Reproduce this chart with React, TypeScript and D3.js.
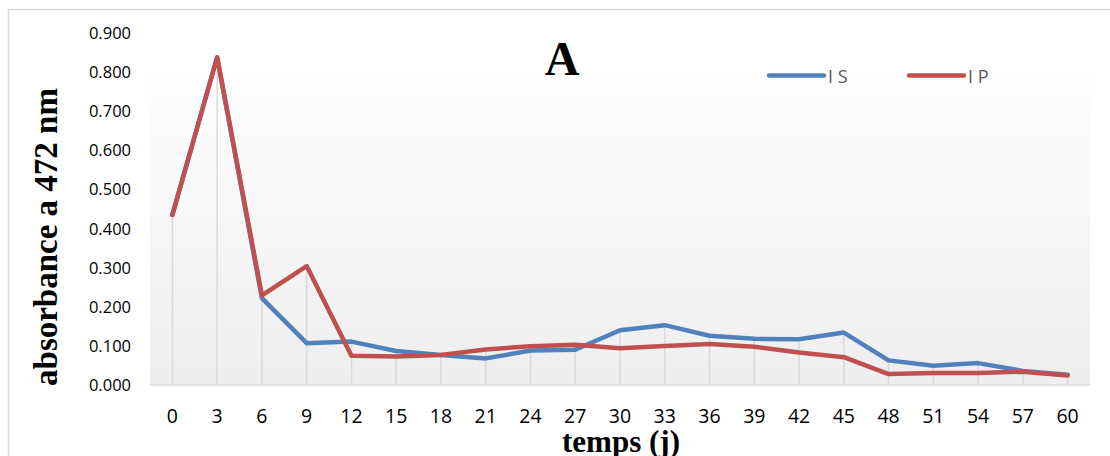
import React from "react";
import * as d3 from "d3";

const categories = ["0","3","6","9","12","15","18","21","24","27","30","33","36","39","42","45","48","51","54","57","60"];
const seriesIS = [0.435,0.838,0.222,0.107,0.111,0.087,0.077,0.068,0.088,0.090,0.140,0.153,0.126,0.118,0.117,0.134,0.063,0.049,0.056,0.036,0.026];
const seriesIP = [0.435,0.838,0.229,0.304,0.075,0.073,0.077,0.091,0.099,0.103,0.094,0.100,0.105,0.098,0.083,0.071,0.028,0.031,0.031,0.034,0.024];
const yTicks = [0,0.1,0.2,0.3,0.4,0.5,0.6,0.7,0.8,0.9];
const seriesNames = ["I S", "I P"];
const colors = ["#4f81bd", "#c0504d"];

export default function App() {
  const left = 150, right = 1090, top = 33, bottom = 385;
  const x = d3.scalePoint<string>().domain(categories).range([left, right]).padding(0.5);
  const y = d3.scaleLinear().domain([0, 0.9]).range([bottom, top]);
  const line = d3.line<number>().x((_, i) => x(categories[i]) as number).y((d) => y(d));
  const series = [seriesIS, seriesIP];
  const sans = "'Open Sans', 'Noto Sans', sans-serif";
  const serif = "'Liberation Serif', 'DejaVu Serif', serif";
  const legendX = [769, 909];
  return (
    <svg width={1110} height={456} style={{ position: "absolute", left: 0, top: 0, background: "#fff" }}>
      <defs>
        <linearGradient id="plotGrad" x1="0" y1="0" x2="0" y2="1">
          <stop offset="0" stopColor="#fefefe" />
          <stop offset="1" stopColor="#eeeeee" />
        </linearGradient>
      </defs>
      <rect x={8.5} y={9.5} width={1200} height={500} fill="#fff" stroke="#d9d9d9" strokeWidth={1.5} />
      <rect x={left} y={78} width={right - left} height={bottom - 78} fill="url(#plotGrad)" />
      {categories.map((c, i) => (
        <line key={"drop" + c} x1={x(c)} x2={x(c)} y1={y(Math.max(seriesIS[i], seriesIP[i]))} y2={bottom}
          stroke="#d9d9d9" strokeWidth={1.5} />
      ))}
      <line x1={left} x2={right} y1={bottom} y2={bottom} stroke="#d9d9d9" strokeWidth={1.5} />
      {yTicks.map((t) => (
        <text key={"yt" + t} x={131} y={y(t) + 6} textAnchor="end" fontFamily={sans} fontSize={16.5} fill="#000">
          {t.toFixed(3)}
        </text>
      ))}
      {categories.map((c) => (
        <text key={"xt" + c} x={x(c)} y={423} textAnchor="middle" fontFamily={sans} fontSize={19.5} fill="#000">
          {c}
        </text>
      ))}
      {series.map((s, k) => (
        <path key={"s" + k} d={line(s) || ""} fill="none" stroke={colors[k]} strokeWidth={4.5}
          strokeLinejoin="round" strokeLinecap="round" />
      ))}
      {seriesNames.map((n, k) => (
        <g key={"lg" + n}>
          <line x1={legendX[k]} x2={legendX[k] + 55} y1={75.5} y2={75.5} stroke={colors[k]} strokeWidth={4.5} strokeLinecap="round" />
          <text x={legendX[k] + 59} y={82.5} fontFamily={sans} fontSize={18} fill="#595959">{n}</text>
        </g>
      ))}
      <text x={562} y={75} textAnchor="middle" fontFamily={serif} fontWeight="bold" fontSize={48} fill="#000">A</text>
      <text x={621} y={452} textAnchor="middle" fontFamily={serif} fontWeight="bold" fontSize={31} fill="#000">temps (j)</text>
      <text transform="translate(57,237) rotate(-90)" textAnchor="middle" fontFamily={serif} fontWeight="bold" fontSize={33} fill="#000">
        absorbance a 472 nm
      </text>
    </svg>
  );
}
